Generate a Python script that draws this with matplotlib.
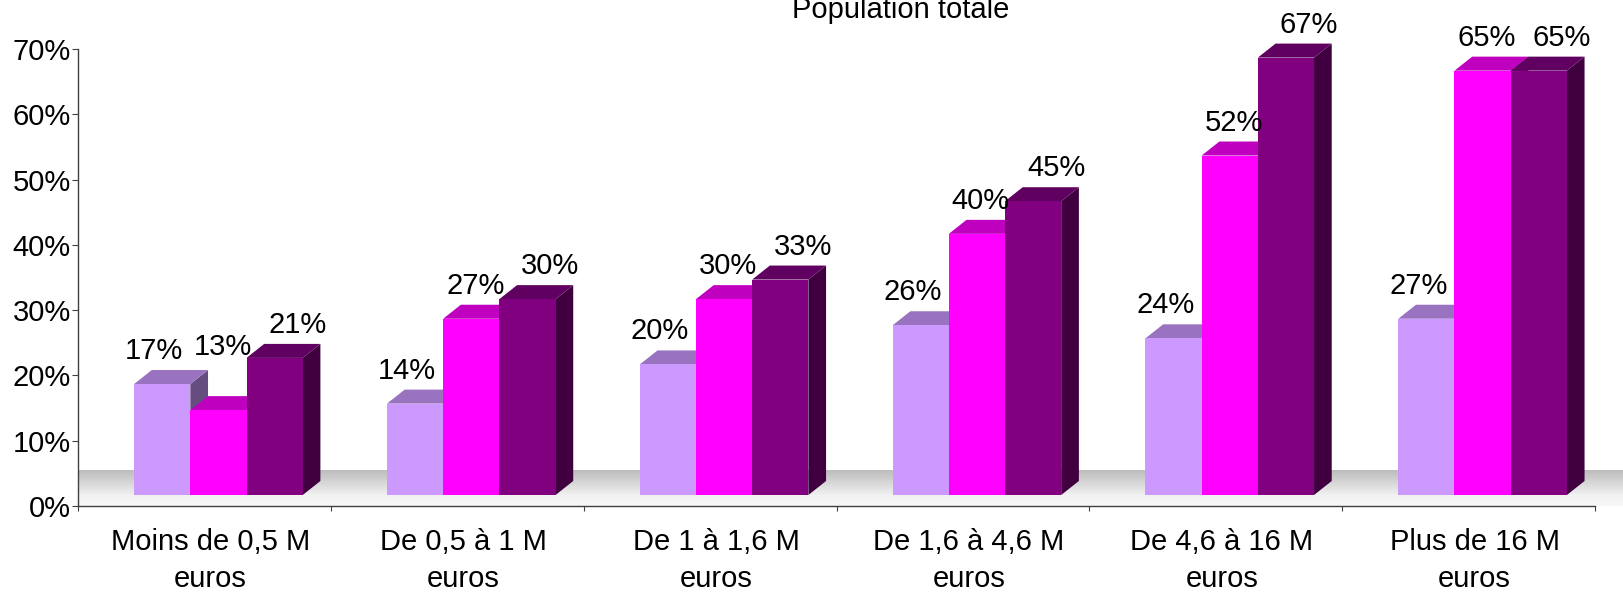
import matplotlib
matplotlib.use("Agg")
import matplotlib.pyplot as plt
import numpy as np
from matplotlib.patches import Polygon

# ---------------- data ----------------
title = "Population totale"
categories = ["Moins de 0,5 M\neuros", "De 0,5 à 1 M\neuros", "De 1 à 1,6 M\neuros",
              "De 1,6 à 4,6 M\neuros", "De 4,6 à 16 M\neuros", "Plus de 16 M\neuros"]
serie_a = [0.17, 0.14, 0.20, 0.26, 0.24, 0.27]
serie_b = [0.13, 0.27, 0.30, 0.40, 0.52, 0.65]
serie_c = [0.21, 0.30, 0.33, 0.45, 0.67, 0.65]
y_ticks = [0.0, 0.1, 0.2, 0.3, 0.4, 0.5, 0.6, 0.7]
y_tick_labels = ["0%", "10%", "20%", "30%", "40%", "50%", "60%", "70%"]

series = [serie_a, serie_b, serie_c]

# ---------------- style / layout ----------------
plt.rcParams['font.family'] = ['Liberation Sans', 'DejaVu Sans']
front_colors = ['#CC99FF', '#FF00FF', '#800080']
FS = 21
W, H = 1623, 592
DPI = 100
gap_width = 1.5
shift_px = (14.0, 11.0)      # bar plane behind axis plane
depth_px = (17.7, 14.0)      # bar depth projection
floor_px = 36.0              # floor depth (vertical)
label_dx_px = [-8, 4, 23]    # per-series label nudge
label_gap_px = 11
label_extra = {(0, 1): 30}   # manual nudge (px up)


def shade(c, f):
    r, g, b = matplotlib.colors.to_rgb(c)
    return (r * f, g * f, b * f)


fig = plt.figure(figsize=(W / DPI, H / DPI), dpi=DPI)
ax_l, ax_b, ax_w, ax_h = 78, 86, 1517, 457
ax = fig.add_axes([ax_l / W, ax_b / H, ax_w / W, ax_h / H])
ncat = len(categories)
ax.set_xlim(0, ncat)
ax.set_ylim(0, 0.7)

px_x = ax_w / ncat
px_y = ax_h / 0.7

sx, sy = shift_px[0] / px_x, shift_px[1] / px_y
ddx, ddy = depth_px[0] / px_x, depth_px[1] / px_y

# floor
fy = floor_px / px_y
grad = np.concatenate([np.linspace(0.74, 0.95, 26), np.linspace(0.95, 0.97, 10)])
grad = grad[::-1].reshape(-1, 1)
x_right = (W - ax_l) / px_x
ax.imshow(np.dstack([grad, grad, grad]), extent=[0, x_right, 0, fy], aspect='auto',
          origin='lower', zorder=0, clip_on=False, interpolation='bilinear')

nser = len(series)
w = 1.0 / (nser + gap_width)
for i in range(ncat):
    start = i + gap_width * w / 2
    for s in range(nser):
        v = series[s][i]
        x0 = start + s * w + sx
        x1 = x0 + w
        y0 = sy
        y1 = v + sy
        c = front_colors[s]
        side = Polygon([(x1, y0), (x1 + ddx, y0 + ddy), (x1 + ddx, y1 + ddy), (x1, y1)],
                       closed=True, facecolor=shade(c, 0.5), edgecolor='none', zorder=2, clip_on=False)
        top = Polygon([(x0, y1), (x1, y1), (x1 + ddx, y1 + ddy), (x0 + ddx, y1 + ddy)],
                      closed=True, facecolor=shade(c, 0.75), edgecolor='none', zorder=2, clip_on=False)
        front = Polygon([(x0, y0), (x1, y0), (x1, y1), (x0, y1)],
                        closed=True, facecolor=c, edgecolor='none', zorder=2, clip_on=False)
        ax.add_patch(side)
        ax.add_patch(top)
        ax.add_patch(front)
        lx = x0 + w / 2 + label_dx_px[s] / px_x
        ly = y1 + ddy + (label_gap_px + label_extra.get((i, s), 0)) / px_y
        ax.text(lx, ly, f"{round(v * 100)}%", ha='center', va='baseline', fontsize=FS,
                color='black', zorder=5, clip_on=False)

# category labels
for i, cat in enumerate(categories):
    lines = cat.split("\n")
    for k, line in enumerate(lines):
        ax.text(i + 0.5 + 6 / px_x, -(44 + 36.7 * k) / px_y, line, ha='center', va='baseline',
                fontsize=FS, color='black', clip_on=False)

# axes
for sp in ['top', 'right']:
    ax.spines[sp].set_visible(False)
for sp in ['left', 'bottom']:
    ax.spines[sp].set_color('#404040')
    ax.spines[sp].set_linewidth(1.0)
    ax.spines[sp].set_zorder(6)
ax.set_yticks(y_ticks)
ax.set_yticklabels(y_tick_labels)
ax.set_xticks(np.arange(ncat + 1))
ax.set_xticklabels([])
ax.tick_params(axis='y', direction='out', length=4.3, width=0.8, pad=1, labelsize=FS,
               color='#404040')
ax.tick_params(axis='x', direction='out', length=3.6, width=0.8, color='#404040')
ax.set_facecolor('none')

fig.text(901 / W, 1 - 18 / H, title, ha='center', va='baseline', fontsize=FS)

fig.savefig("out.png", dpi=DPI, facecolor='white')
